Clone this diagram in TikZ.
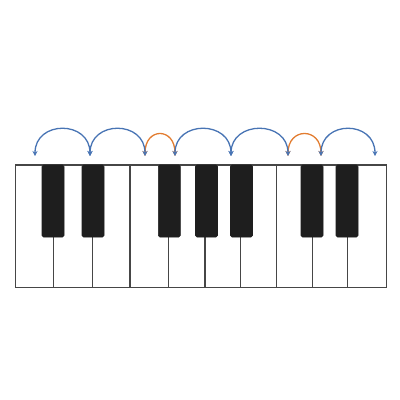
\documentclass[tikz,border=0pt]{standalone}
\usetikzlibrary{arrows.meta}
\begin{document}
\begin{tikzpicture}[x=1pt,y=-1pt]
	% Define colors for keys and steps
	\definecolor{keyline}{RGB}{70, 70, 70}
	\definecolor{blackkey}{RGB}{30, 30, 30}
	\definecolor{wholecolor}{RGB}{72, 116, 180}
	\definecolor{halfcolor}{RGB}{226, 124, 48}
	\tikzset{
		whitekey/.style={draw=keyline, fill=white, line width=1.4pt},
		darkkey/.style={fill=blackkey, draw=blackkey, line width=0.6pt, rounded corners=1.5pt},
		wholestep/.style={draw=wholecolor, line width=1.3pt, {Stealth[length=5pt,width=5pt]}-{Stealth[length=5pt,width=5pt]}},
		halfstep/.style={draw=halfcolor, line width=1.3pt, {Stealth[length=5pt,width=5pt]}-{Stealth[length=5pt,width=5pt]}}
	}
	
	% Page size
	\useasboundingbox (0,0) rectangle (400,400);
	
	% White keys (C D E F G A B C D E)
	\draw[whitekey] (15.5, 165) rectangle (53.3, 287.5);
	\draw[whitekey] (53.3, 165) rectangle (92.7, 287.5);
	\draw[whitekey] (92.7, 165) rectangle (130, 287.5);
	\draw[whitekey] (130, 165) rectangle (168.3, 287.5);
	\draw[whitekey] (168.3, 165) rectangle (205, 287.5);
	\draw[whitekey] (205, 165) rectangle (240.7, 287.5);
	\draw[whitekey] (240.7, 165) rectangle (276.7, 287.5);
	\draw[whitekey] (276.7, 165) rectangle (312.3, 287.5);
	\draw[whitekey] (312.3, 165) rectangle (347.3, 287.5);
	\draw[whitekey] (347.3, 165) rectangle (386.5, 287.5);
	
	% Black keys (centered on the white key borders)
	\draw[darkkey] (42, 165) rectangle (64, 237);
	\draw[darkkey] (82, 165) rectangle (104, 237);
	\draw[darkkey] (158.3, 165) rectangle (180.3, 237);
	\draw[darkkey] (195.5, 165) rectangle (217.5, 237);
	\draw[darkkey] (230.5, 165) rectangle (252.5, 237);
	\draw[darkkey] (301, 165) rectangle (323, 237);
	\draw[darkkey] (336, 165) rectangle (358, 237);
	
	% Step points above the keys
	\coordinate (s1) at (35, 156);
	\coordinate (s2) at (90, 156);
	\coordinate (s3) at (145, 156);
	\coordinate (s4) at (175, 156);
	\coordinate (s5) at (231, 156);
	\coordinate (s6) at (288, 156);
	\coordinate (s7) at (321, 156);
	\coordinate (s8) at (375, 156);
	
	% Half steps (orange)
	\draw[halfstep] (s3) .. controls +(0,-29) and +(0,-29) .. (s4);
	\draw[halfstep] (s6) .. controls +(0,-29) and +(0,-29) .. (s7);
	
	% Whole steps (blue)
	\draw[wholestep] (s1) .. controls +(0,-36) and +(0,-36) .. (s2);
	\draw[wholestep] (s2) .. controls +(0,-36) and +(0,-36) .. (s3);
	\draw[wholestep] (s4) .. controls +(0,-36) and +(0,-36) .. (s5);
	\draw[wholestep] (s5) .. controls +(0,-36) and +(0,-36) .. (s6);
	\draw[wholestep] (s7) .. controls +(0,-36) and +(0,-36) .. (s8);
\end{tikzpicture}
\end{document}
